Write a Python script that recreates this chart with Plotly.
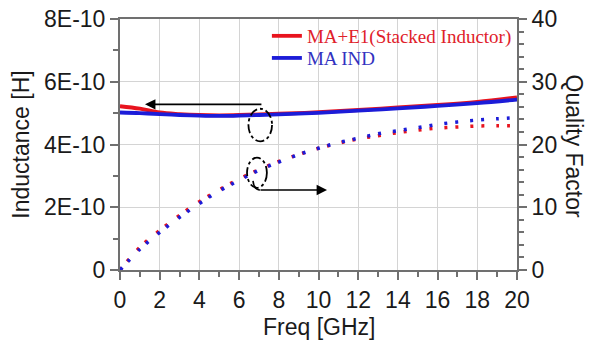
import plotly.graph_objects as go

# ---- data ----
freq_L = [0, 1, 2, 3, 4, 5, 6, 7, 8, 10, 12, 14, 16, 18, 20]
L_stacked = [5.22e-10, 5.14e-10, 5.02e-10, 4.97e-10, 4.94e-10, 4.93e-10, 4.94e-10, 4.96e-10,
             4.98e-10, 5.03e-10, 5.10e-10, 5.18e-10, 5.26e-10, 5.36e-10, 5.50e-10]
L_ind = [5.02e-10, 5.00e-10, 4.97e-10, 4.94e-10, 4.92e-10, 4.91e-10, 4.92e-10, 4.94e-10,
         4.96e-10, 5.01e-10, 5.08e-10, 5.15e-10, 5.23e-10, 5.32e-10, 5.43e-10]

freq_Q = [0, 1, 2, 3, 4, 5, 6, 7, 8, 9, 10, 11, 12, 13, 14, 15, 16, 17, 18, 19, 20]
Q_stacked = [0, 3.6, 6.3, 8.7, 10.9, 12.8, 14.5, 16.0, 17.3, 18.4, 19.4, 20.2, 20.9,
             21.4, 21.9, 22.3, 22.6, 22.8, 22.95, 23.0, 23.0]
Q_ind = [0, 3.3, 6.0, 8.4, 10.6, 12.6, 14.3, 15.9, 17.2, 18.4, 19.4, 20.3, 21.0,
         21.7, 22.2, 22.7, 23.2, 23.6, 23.9, 24.1, 24.3]

L_tickvals = [0, 2e-10, 4e-10, 6e-10, 8e-10]
L_ticktext = ["0", "2E-10", "4E-10", "6E-10", "8E-10"]
Q_tickvals = [0, 10, 20, 30, 40]
x_tickvals = [0, 2, 4, 6, 8, 10, 12, 14, 16, 18, 20]

names = ["MA+E1(Stacked Inductor)", "MA IND"]

RED = "#e8141e"
BLUE = "#1c1cd8"

fig = go.Figure()
fig.add_trace(go.Scatter(x=freq_L, y=L_stacked, mode="lines", line=dict(color=RED, width=3.8, shape="spline"),
                         name=f"<span style='color:#e0202a'>{names[0]}</span>", legend="legend"))
fig.add_trace(go.Scatter(x=freq_L, y=L_ind, mode="lines", line=dict(color=BLUE, width=3.8, shape="spline"),
                         name=f"<span style='color:#3232c0'>{names[1]}</span>", legend="legend2"))
fig.add_trace(go.Scatter(x=freq_Q, y=Q_stacked, mode="lines", yaxis="y2", showlegend=False,
                         line=dict(color=RED, width=3.5, dash="3px,8px,3px,12px", shape="spline")))
fig.add_trace(go.Scatter(x=freq_Q, y=Q_ind, mode="lines", yaxis="y2", showlegend=False,
                         line=dict(color=BLUE, width=3.5, dash="3px,8px,3px,12px", shape="spline")))

axis_font = dict(family="Liberation Sans, Arial, sans-serif", size=23, color="#1a1a1a")
AX = "#707070"
leg_font = dict(family="Liberation Serif, Times New Roman, serif", size=19)

fig.update_layout(
    width=597, height=343,
    margin=dict(l=120, r=80, t=19, b=73, autoexpand=False),
    plot_bgcolor="white", paper_bgcolor="white",
    showlegend=True,
    legend=dict(x=0.370, y=1.008, xanchor="left", yanchor="top",
                bgcolor="rgba(0,0,0,0)", font=leg_font, itemwidth=30),
    legend2=dict(x=0.370, y=0.920, xanchor="left", yanchor="top",
                 bgcolor="rgba(0,0,0,0)", font=leg_font, itemwidth=30),
    xaxis=dict(range=[0, 20], tickvals=x_tickvals, ticks="outside", ticklen=8, tickwidth=1.5,
               tickcolor=AX, showline=True, linecolor=AX, linewidth=2, mirror=True, automargin=False,
               showgrid=True, gridcolor="#d4d4d4", gridwidth=1, zeroline=False,
               tickfont=axis_font,
               minor=dict(dtick=1, ticks="outside", ticklen=5, tickcolor=AX, showgrid=False)),
    yaxis=dict(range=[0, 8e-10], tickvals=L_tickvals, ticktext=L_ticktext, ticks="outside", ticklen=8,
               tickwidth=1.5, tickcolor=AX, showline=True, linecolor=AX, linewidth=2, automargin=False,
               showgrid=True, gridcolor="#d4d4d4", gridwidth=1, zeroline=False,
               tickfont=axis_font, title=dict(text="Inductance [H]", font=axis_font, standoff=8),
               minor=dict(tickvals=[1e-10, 3e-10, 5e-10, 7e-10], ticks="outside", ticklen=5,
                          tickcolor=AX, showgrid=False)),
    yaxis2=dict(range=[0, 40], tickvals=Q_tickvals, overlaying="y", side="right", ticks="outside",
                ticklen=8, tickwidth=1.5, tickcolor=AX, showline=True, linecolor=AX, linewidth=2,
                automargin=False, showgrid=False, zeroline=False, tickfont=axis_font,
                minor=dict(dtick=2, ticks="outside", ticklen=5, tickcolor=AX)),
)

# x-axis title
fig.add_annotation(text="Freq [GHz]", xref="paper", yref="paper", x=0.5, y=-0.226,
                   showarrow=False, font=axis_font, xanchor="center", yanchor="middle")
# right axis title, reading top-to-bottom as in the reference
fig.add_annotation(text="Quality Factor", xref="paper", yref="paper", x=1.146, y=0.492,
                   textangle=90, showarrow=False, font=axis_font, xanchor="center", yanchor="middle")

# annotation decorations (in data coordinates)
fig.add_annotation(x=1.26, y=26.4, ax=7.2, ay=26.4, xref="x", yref="y2", axref="x", ayref="y2",
                   showarrow=True, arrowhead=2, arrowsize=1.3, arrowwidth=1.6, arrowcolor="black", text="")
fig.add_annotation(x=10.43, y=12.75, ax=7.0, ay=12.75, xref="x", yref="y2", axref="x", ayref="y2",
                   showarrow=True, arrowhead=2, arrowsize=1.3, arrowwidth=1.6, arrowcolor="black", text="")
fig.add_shape(type="path", xref="x", yref="y2",
              path="M 6.7,14.2 Q 6.75,12.75 7.05,12.75",
              line=dict(color="black", width=1.6))
fig.add_shape(type="circle", xref="x", yref="y2", x0=6.47, x1=7.66, y0=20.5, y1=25.7,
              line=dict(color="black", width=1.8, dash="dashdot"))
fig.add_shape(type="circle", xref="x", yref="y2", x0=6.4, x1=7.4, y0=13.1, y1=17.9,
              line=dict(color="black", width=1.8, dash="dashdot"))

fig.write_html("out.html")
